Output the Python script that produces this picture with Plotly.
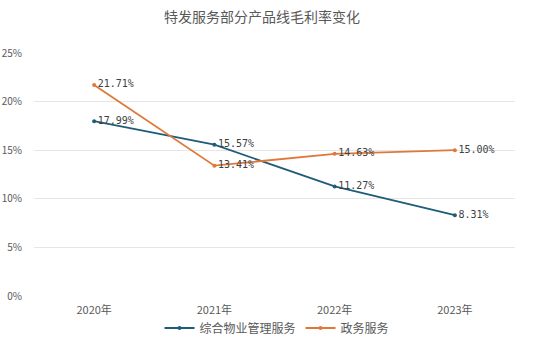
import plotly.graph_objects as go

years = ["2020年", "2021年", "2022年", "2023年"]
series_names = ["综合物业管理服务", "政务服务"]
property_mgmt = [17.99, 15.57, 11.27, 8.31]
gov_service = [21.71, 13.41, 14.63, 15.00]
colors = ["#1f5c7a", "#e0783a"]
y_ticks = [0, 5, 10, 15, 20, 25]

fig = go.Figure()
for name, vals, c in zip(series_names, [property_mgmt, gov_service], colors):
    fig.add_trace(go.Scatter(
        x=years, y=vals, name=name, mode="lines+markers+text",
        line=dict(color=c, width=1.8),
        marker=dict(color=c, size=4),
        text=[f"{v:.2f}%" for v in vals],
        textposition="middle right",
        textfont=dict(family="DejaVu Sans Mono, monospace", size=10, color="#404040"),
        cliponaxis=False,
    ))

fig.update_layout(
    width=554, height=340,
    margin=dict(l=34, r=39, t=53, b=44, autoexpand=False),
    paper_bgcolor="white", plot_bgcolor="white",
    title=dict(text="特发服务部分产品线毛利率变化", x=262/554, xanchor="center",
               xref="container", y=1 - 17/340, yanchor="middle", yref="container",
               font=dict(family="Noto Sans CJK SC", size=14, color="#595959")),
    font=dict(family="Noto Sans CJK SC", color="#595959"),
    xaxis=dict(type="category", range=[-0.5, 3.5], showgrid=False, showline=False, ticks="",
               automargin=False, tickfont=dict(size=11, color="#595959"), ticklabelstandoff=6),
    yaxis=dict(range=[0, 25], tickvals=y_ticks, ticktext=[f"{t}%" for t in y_ticks],
               showgrid=True, gridcolor="#e6e6e6", gridwidth=1, zeroline=False, automargin=False,
               tickfont=dict(size=10, color="#595959"), ticks="", ticklabelstandoff=11),
    legend=dict(orientation="h", x=(277 - 34) / (554 - 34 - 39), xanchor="center",
                y=-(328 - 296) / (296 - 53), yanchor="middle", bgcolor="rgba(0,0,0,0)",
                font=dict(size=12, color="#595959"), itemwidth=30, tracegroupgap=0),
    showlegend=True,
)
fig.write_html("out.html")
